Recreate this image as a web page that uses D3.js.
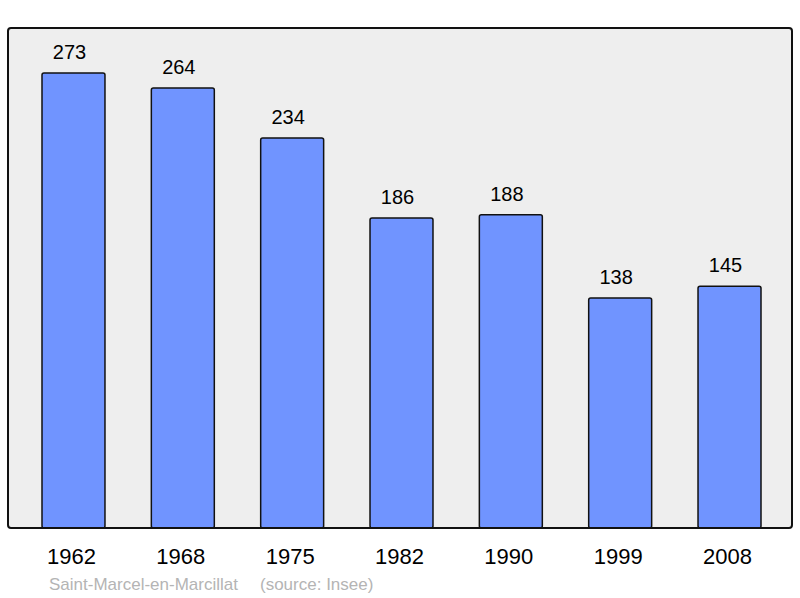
<!DOCTYPE html>
<html>
<head>
<meta charset="utf-8">
<style>
  body { margin: 0; background: #fff; }
  text { font-family: "Liberation Sans", Arial, sans-serif; }
</style>
</head>
<body>
<svg id="chart" width="800" height="598"></svg>
<script src="https://d3js.org/d3.v7.min.js"></script>
<script>
var years = ["1962", "1968", "1975", "1982", "1990", "1999", "2008"];
var population = [273, 264, 234, 186, 188, 138, 145];
var commune = "Saint-Marcel-en-Marcillat";
var source = "(source: Insee)";

var data = years.map((y, i) => ({ year: y, value: population[i] }));

var svg = d3.select("#chart");

// frame
var frame = { left: 8, right: 792, top: 28, bottom: 528 };

var x = d3.scaleBand()
  .domain(years)
  .range([42, 761])
  .paddingInner(0.424)
  .paddingOuter(0);

var y = d3.scaleLinear()
  .domain([0, 300])
  .range([frame.bottom, frame.top]);

svg.append("rect")
  .attr("x", frame.left)
  .attr("y", frame.top)
  .attr("width", frame.right - frame.left)
  .attr("height", frame.bottom - frame.top)
  .attr("rx", 3)
  .style("fill", "#eeeeee");

var bars = svg.selectAll(".bar")
  .data(data)
  .enter()
  .append("g")
  .attr("class", "bar");

bars.append("rect")
  .attr("x", d => x(d.year))
  .attr("y", d => y(d.value))
  .attr("width", x.bandwidth())
  .attr("height", d => y(0) - y(d.value))
  .attr("rx", 2)
  .style("fill", "#7094ff")
  .style("stroke", "#111")
  .style("stroke-width", "1.5px");

bars.append("text")
  .attr("x", d => x(d.year) + x.bandwidth() / 2 - 4)
  .attr("y", d => y(d.value) - 14)
  .attr("text-anchor", "middle")
  .attr("font-size", "20px")
  .attr("fill", "#000")
  .text(d => d.value);

// frame border on top of bars
svg.append("rect")
  .attr("x", frame.left)
  .attr("y", frame.top)
  .attr("width", frame.right - frame.left)
  .attr("height", frame.bottom - frame.top)
  .attr("rx", 3)
  .style("fill", "none")
  .style("stroke", "#111")
  .style("stroke-width", "2px");

// year labels
svg.selectAll(".year")
  .data(years)
  .enter()
  .append("text")
  .attr("class", "year")
  .attr("x", d => x(d) + x.bandwidth() / 2 - 2)
  .attr("y", 564)
  .attr("text-anchor", "middle")
  .attr("font-size", "22px")
  .attr("fill", "#000")
  .text(d => d);

svg.append("text")
  .attr("x", 49)
  .attr("y", 590)
  .attr("font-size", "17px")
  .attr("fill", "#b4b4b4")
  .text(commune);

svg.append("text")
  .attr("x", 260)
  .attr("y", 590)
  .attr("font-size", "17px")
  .attr("fill", "#b4b4b4")
  .text(source);
</script>
</body>
</html>
